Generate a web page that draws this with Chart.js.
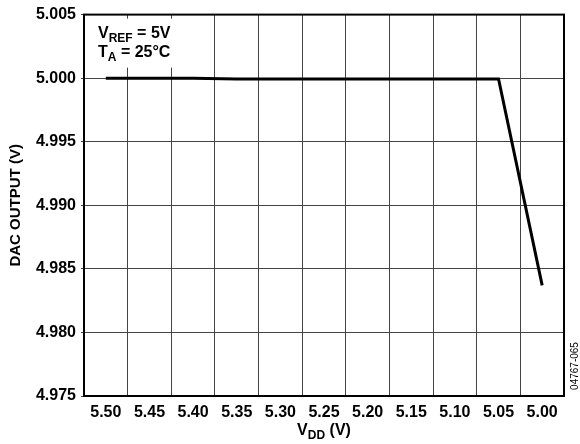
<!DOCTYPE html>
<html>
<head>
<meta charset="utf-8">
<script src="https://cdn.jsdelivr.net/npm/chart.js@4/dist/chart.umd.min.js"></script>
<style>
html,body{margin:0;padding:0;background:#fff;}
#wrap{width:580px;height:444px;}
</style>
</head>
<body>
<div id="wrap"><canvas id="c" width="580" height="444"></canvas></div>
<script>
// Data
const categories = ['5.50','5.45','5.40','5.35','5.30','5.25','5.20','5.15','5.10','5.05','5.00'];
const dacOutput = [5.0000, 5.0000, 5.0000, 4.99993, 4.99993, 4.99993, 4.99993, 4.99993, 4.99993, 4.99993, 4.9837];
const yMin = 4.975, yMax = 5.005, yStep = 0.005;
const yTitle = 'DAC OUTPUT (V)';
const xTitleMain = 'V', xTitleSub = 'DD', xTitleTail = ' (V)';
const noteLines = [['V','REF',' = 5V'],['T','A',' = 25°C']];
const figureId = '04767-065';

const FONT = '"Liberation Sans", Arial, Helvetica, sans-serif';

function drawSub(ctx, parts, x, y, big, small, align) {
  ctx.font = 'bold ' + big + 'px ' + FONT;
  const w0 = ctx.measureText(parts[0]).width;
  const w2 = ctx.measureText(parts[2]).width;
  ctx.font = 'bold ' + small + 'px ' + FONT;
  const w1 = ctx.measureText(parts[1]).width;
  let sx = x;
  if (align === 'center') sx = x - (w0 + w1 + w2) / 2;
  ctx.textAlign = 'left';
  ctx.textBaseline = 'alphabetic';
  ctx.fillStyle = '#000';
  ctx.font = 'bold ' + big + 'px ' + FONT;
  ctx.fillText(parts[0], sx, y);
  ctx.font = 'bold ' + small + 'px ' + FONT;
  ctx.fillText(parts[1], sx + w0, y + 4);
  ctx.font = 'bold ' + big + 'px ' + FONT;
  ctx.fillText(parts[2], sx + w0 + w1, y);
}

const decor = {
  id: 'decor',
  beforeDatasetsDraw(chart) {
    const ctx = chart.ctx, a = chart.chartArea;
    ctx.save();
    ctx.fillStyle = '#fff';
    ctx.fillRect(a.left + 2, a.top + 4, 104, 49);
    drawSub(ctx, noteLines[0], a.left + 14, a.top + 23, 16, 12, 'left');
    drawSub(ctx, noteLines[1], a.left + 14, a.top + 42, 16, 12, 'left');
    ctx.restore();
  },
  afterDraw(chart) {
    const ctx = chart.ctx, a = chart.chartArea;
    ctx.save();
    ctx.strokeStyle = '#000';
    ctx.lineWidth = 2;
    ctx.strokeRect(a.left, a.top, a.right - a.left, a.bottom - a.top);
    // x axis title with subscript
    drawSub(ctx, [xTitleMain, xTitleSub, xTitleTail], (a.left + a.right) / 2, 435, 16, 12, 'center');
    // figure id
    ctx.translate(575, 366);
    ctx.rotate(-Math.PI / 2);
    ctx.font = '10px ' + FONT;
    ctx.fillStyle = '#000';
    ctx.textAlign = 'center';
    ctx.textBaseline = 'middle';
    ctx.fillText(figureId, 0, 0);
    ctx.restore();
  }
};

new Chart(document.getElementById('c'), {
  type: 'line',
  data: {
    labels: categories,
    datasets: [{
      data: dacOutput,
      borderColor: '#000',
      borderWidth: 3,
      pointRadius: 0,
      tension: 0,
      fill: false
    }]
  },
  options: {
    responsive: false,
    animation: false,
    devicePixelRatio: 1,
    layout: { padding: { left: 0, right: 16, top: 10, bottom: 0 } },
    plugins: { legend: { display: false }, tooltip: { enabled: false } },
    scales: {
      x: {
        type: 'category',
        offset: true,
        grid: { offset: true, color: '#444', lineWidth: 1, drawTicks: false },
        border: { color: '#000', width: 2 },
        ticks: { color: '#000', font: { family: FONT, size: 16, weight: 'bold' }, padding: 7, maxRotation: 0, autoSkip: false },
        afterFit(s) { s.height = 48; }
      },
      y: {
        min: yMin, max: yMax,
        grid: { color: '#444', lineWidth: 1, tickLength: 3, drawTicks: true },
        border: { color: '#000', width: 2 },
        ticks: { stepSize: yStep, color: '#000', font: { family: FONT, size: 16, weight: 'bold' }, padding: 5,
                 callback: v => Number(v).toFixed(3) },
        title: { display: true, text: yTitle, color: '#000', font: { family: FONT, size: 15, weight: 'bold' }, padding: { top: 7, bottom: 0 } },
        afterFit(s) { s.width = 84; }
      }
    }
  },
  plugins: [decor]
});
</script>
</body>
</html>
